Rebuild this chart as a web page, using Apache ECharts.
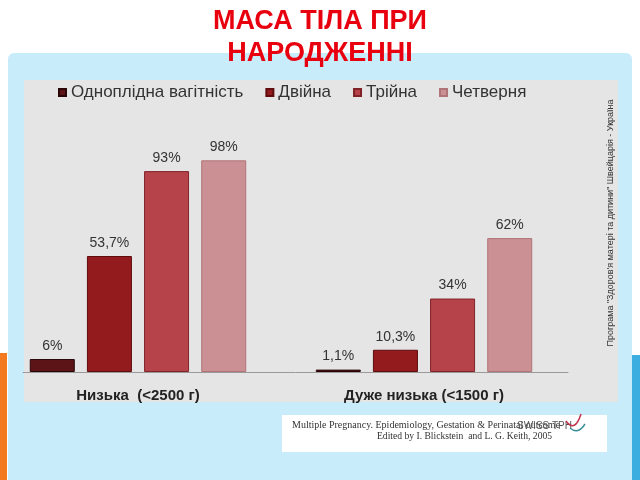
<!DOCTYPE html>
<html>
<head>
<meta charset="utf-8">
<script src="https://cdn.jsdelivr.net/npm/echarts@6/dist/echarts.min.js"></script>
<style>
html,body{margin:0;padding:0;background:#fff;}
#c{width:640px;height:480px;}
</style>
</head>
<body>
<div id="c"></div>
<script>
const titleText = 'МАСА ТІЛА ПРИ\nНАРОДЖЕННІ';
const categories = ['Низька  (<2500 г)', 'Дуже низька (<1500 г)'];
const seriesNames = ['Одноплідна вагітність', 'Двійна', 'Трійна', 'Четверня'];
const singleton = [6, 1.1];
const twins = [53.7, 10.3];
const triplets = [93, 34];
const quadruplets = [98, 62];
const sideNote = 'Програма "Здоров\'я матері та дитини" Швейцарія - Україна';
const citeLine1 = 'Multiple Pregnancy. Epidemiology, Gestation & Perinatal outcome';
const citeLine2 = 'Edited by I. Blickstein  and L. G. Keith, 2005';

const fills = ['#5c1417', '#931b1e', '#b6434a', '#ca9094'];
const borders = ['#2a0507', '#5e0c0e', '#7f2328', '#b07478'];
const valuesBySeries = [singleton, twins, triplets, quadruplets];

const fmt = v => String(v).replace('.', ',') + '%';

const chart = echarts.init(document.getElementById('c'), null, {renderer: 'canvas'});
const FONT = '"Liberation Sans", Arial, sans-serif';

const series = seriesNames.map((name, i) => ({
  name: name,
  type: 'bar',
  xAxisIndex: 0,
  yAxisIndex: 0,
  data: valuesBySeries[i],
  barWidth: 45,
  barGap: '27%',
  itemStyle: {color: fills[i], borderColor: borders[i], borderWidth: 1},
  label: {
    show: true, position: 'top', distance: 6,
    formatter: p => fmt(p.value),
    color: '#333', fontSize: 14, fontFamily: FONT
  },
  emphasis: {disabled: true}
}));

chart.setOption({
  animation: false,
  backgroundColor: '#ffffff',
  title: {
    text: titleText,
    left: 'center', top: 1,
    textStyle: {color: '#e8000f', fontSize: 27, fontWeight: 'bold', fontFamily: FONT, lineHeight: 32}
  },
  legend: {
    data: seriesNames,
    left: 58, top: 84, padding: 0,
    itemWidth: 7, itemHeight: 7, itemGap: 22,
    icon: 'rect',
    textStyle: {color: '#333', fontSize: 17, fontFamily: FONT}
  },
  grid: [
    {left: -5, width: 572, top: 156, bottom: 108, containLabel: false, outerBoundsMode: 'none'},
    {left: 23, width: 545, top: 156, bottom: 108, containLabel: false, outerBoundsMode: 'none'}
  ],
  xAxis: [
    {
      type: 'category', gridIndex: 0, data: categories,
      axisLine: {show: false}, axisTick: {show: false},
      axisLabel: {color: '#222', fontSize: 15, fontWeight: 'bold', fontFamily: FONT, margin: 16}
    },
    {
      type: 'value', gridIndex: 1, min: 0, max: 1,
      axisLine: {show: true, onZero: false, lineStyle: {color: '#9a9a9a', width: 1}},
      axisTick: {show: false}, axisLabel: {show: false}, splitLine: {show: false}
    }
  ],
  yAxis: [
    {type: 'value', gridIndex: 0, min: 0, max: 100, show: false},
    {type: 'value', gridIndex: 1, min: 0, max: 1, show: false}
  ],
  series: series,
  graphic: [
    {type: 'rect', z: -100, shape: {x: 8, y: 53, width: 624, height: 440, r: 6}, style: {fill: '#c9ecfb'}},
    {type: 'rect', z: -90, shape: {x: 24, y: 80, width: 594, height: 322}, style: {fill: '#e5e5e5'}},
    {type: 'rect', z: -80, shape: {x: 0, y: 353, width: 7, height: 127}, style: {fill: '#f47a20'}},
    {type: 'rect', z: -80, shape: {x: 632, y: 355, width: 8, height: 125}, style: {fill: '#3cafe0'}},
    {type: 'text', z: 50, x: 611, y: 223, rotation: Math.PI / 2,
      style: {text: sideNote, fill: '#333', font: '9px "Liberation Sans", Arial, sans-serif', align: 'center', verticalAlign: 'middle'}},
    {type: 'rect', z: -70, shape: {x: 282, y: 415, width: 325, height: 37}, style: {fill: '#ffffff'}},
    {type: 'text', z: 50, x: 292, y: 425,
      style: {text: citeLine1, fill: '#333', font: '10px "Liberation Serif", "Times New Roman", serif', verticalAlign: 'middle'}},
    {type: 'text', z: 50, x: 377, y: 436,
      style: {text: citeLine2, fill: '#333', font: '9.6px "Liberation Serif", "Times New Roman", serif', verticalAlign: 'middle'}},
    {type: 'text', z: 51, x: 517, y: 426,
      style: {text: 'SWISS TPH', fill: '#555', font: '10px "Liberation Sans", Arial, sans-serif', verticalAlign: 'middle'}},
    {type: 'bezierCurve', z: 52, shape: {x1: 566, y1: 421, x2: 581, y2: 414, cpx1: 575, cpy1: 433}, style: {fill: 'none', stroke: '#c0334a', lineWidth: 1.5}},
    {type: 'bezierCurve', z: 52, shape: {x1: 570, y1: 428, x2: 585, y2: 424, cpx1: 578, cpy1: 435}, style: {fill: 'none', stroke: '#3a8f9a', lineWidth: 1.5}}
  ]
});
</script>
</body>
</html>
